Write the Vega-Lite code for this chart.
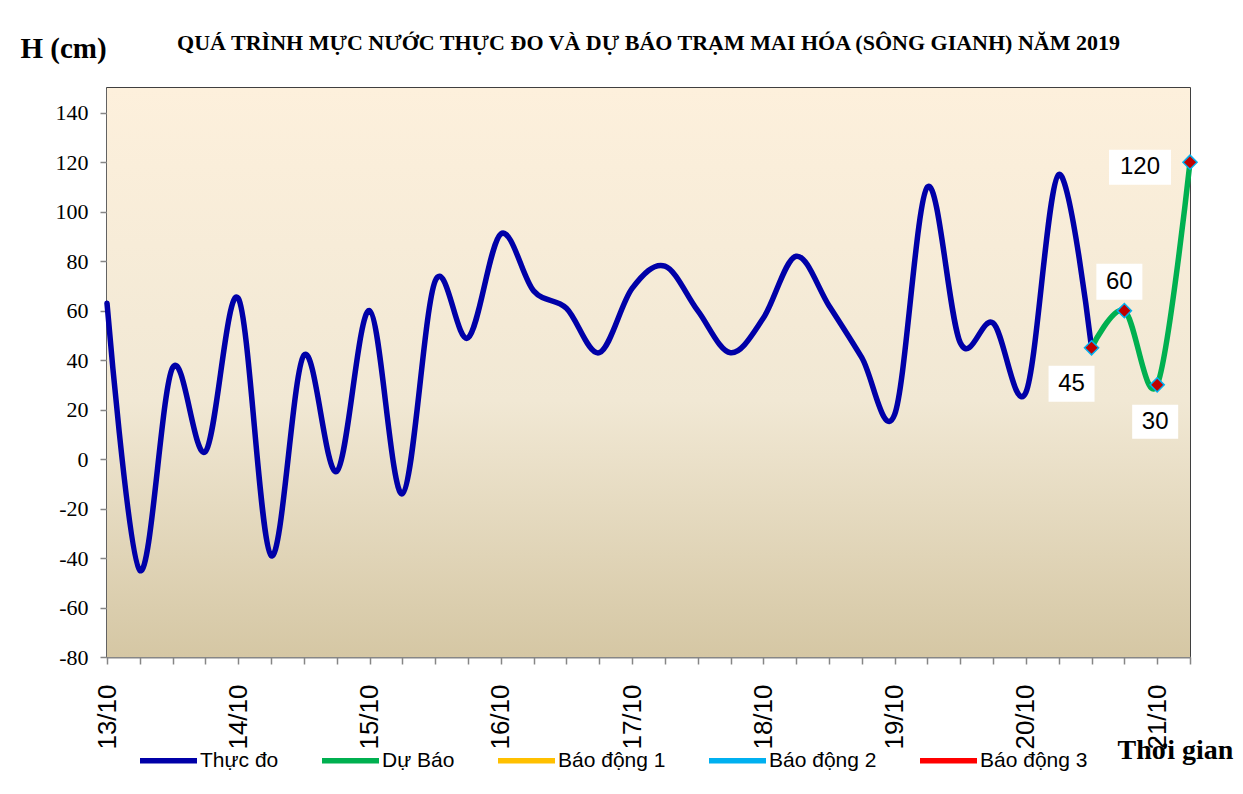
{
  "$schema": "https://vega.github.io/schema/vega-lite/v6.json",
  "width": 1083,
  "height": 569,
  "autosize": "none",
  "padding": {"left": 107, "top": 88, "right": 53, "bottom": 137},
  "background": "white",
  "title": {
    "text": "QUÁ TRÌNH MỰC NƯỚC THỰC ĐO VÀ DỰ BÁO TRẠM MAI HÓA (SÔNG GIANH) NĂM  2019",
    "font": "Liberation Serif",
    "fontSize": 22,
    "fontWeight": "bold",
    "color": "#000000",
    "anchor": "middle",
    "offset": 30,
    "dy": 51
  },
  "config": {
    "view": {"stroke": "#000000", "strokeWidth": 1.5}
  },
  "datasets": {
    "levels": [
      {"t": "2019-10-13T00:00", "h": 63, "s": "Thực đo"},
      {"t": "2019-10-13T06:00", "h": -45, "s": "Thực đo"},
      {"t": "2019-10-13T12:00", "h": 37, "s": "Thực đo"},
      {"t": "2019-10-13T18:00", "h": 3, "s": "Thực đo"},
      {"t": "2019-10-14T00:00", "h": 65, "s": "Thực đo"},
      {"t": "2019-10-14T06:00", "h": -39, "s": "Thực đo"},
      {"t": "2019-10-14T12:00", "h": 42, "s": "Thực đo"},
      {"t": "2019-10-14T18:00", "h": -5, "s": "Thực đo"},
      {"t": "2019-10-15T00:00", "h": 60, "s": "Thực đo"},
      {"t": "2019-10-15T06:00", "h": -14, "s": "Thực đo"},
      {"t": "2019-10-15T12:00", "h": 72, "s": "Thực đo"},
      {"t": "2019-10-15T18:00", "h": 49, "s": "Thực đo"},
      {"t": "2019-10-16T00:00", "h": 91, "s": "Thực đo"},
      {"t": "2019-10-16T06:00", "h": 68, "s": "Thực đo"},
      {"t": "2019-10-16T12:00", "h": 61, "s": "Thực đo"},
      {"t": "2019-10-16T18:00", "h": 43, "s": "Thực đo"},
      {"t": "2019-10-17T00:00", "h": 69, "s": "Thực đo"},
      {"t": "2019-10-17T06:00", "h": 78, "s": "Thực đo"},
      {"t": "2019-10-17T12:00", "h": 60, "s": "Thực đo"},
      {"t": "2019-10-17T18:00", "h": 43, "s": "Thực đo"},
      {"t": "2019-10-18T00:00", "h": 57, "s": "Thực đo"},
      {"t": "2019-10-18T06:00", "h": 82, "s": "Thực đo"},
      {"t": "2019-10-18T12:00", "h": 62, "s": "Thực đo"},
      {"t": "2019-10-18T18:00", "h": 41, "s": "Thực đo"},
      {"t": "2019-10-19T00:00", "h": 18, "s": "Thực đo"},
      {"t": "2019-10-19T06:00", "h": 110, "s": "Thực đo"},
      {"t": "2019-10-19T12:00", "h": 47, "s": "Thực đo"},
      {"t": "2019-10-19T18:00", "h": 55, "s": "Thực đo"},
      {"t": "2019-10-20T00:00", "h": 27, "s": "Thực đo"},
      {"t": "2019-10-20T06:00", "h": 115, "s": "Thực đo"},
      {"t": "2019-10-20T12:00", "h": 45, "s": "Thực đo"},
      {"t": "2019-10-20T12:00", "h": 45, "s": "Dự Báo"},
      {"t": "2019-10-20T18:00", "h": 60, "s": "Dự Báo"},
      {"t": "2019-10-21T00:00", "h": 30, "s": "Dự Báo"},
      {"t": "2019-10-21T06:00", "h": 120, "s": "Dự Báo"}
    ]
  },
  "layer": [
    {
      "data": {"values": [{"bg": 1}]},
      "mark": {
        "type": "rect",
        "color": {
          "gradient": "linear",
          "x1": 0, "y1": 0, "x2": 0, "y2": 1,
          "stops": [
            {"offset": 0, "color": "#FDF0DC"},
            {"offset": 0.55, "color": "#F1E8D4"},
            {"offset": 1, "color": "#D5C7A4"}
          ]
        }
      },
      "encoding": {}
    },
    {
      "data": {"name": "levels"},
      "encoding": {
        "x": {
          "field": "t",
          "type": "temporal",
          "axis": {
            "title": "Thời gian",
            "titleFont": "Liberation Serif",
            "titleFontSize": 28,
            "titleFontWeight": "bold",
            "titleColor": "#000000",
            "titleAngle": 0,
            "titleX": 1068,
            "titleY": 93,
            "titleAlign": "center",
            "titleBaseline": "middle",
            "tickCount": 33,
            "labelExpr": "hours(datum.value) == 0 ? timeFormat(datum.value, '%d/%m') : ''",
            "labelAngle": 270,
            "labelAlign": "right",
            "labelBaseline": "middle",
            "labelFont": "Liberation Sans",
            "labelFontSize": 26,
            "labelColor": "#000000",
            "labelOverlap": false,
            "labelFlush": false,
            "labelBound": false,
            "labelPadding": 20,
            "tickSize": 7,
            "tickColor": "#868686",
            "tickWidth": 1.5,
            "domainColor": "#868686",
            "domainWidth": 2,
            "grid": false
          }
        },
        "y": {
          "field": "h",
          "type": "quantitative",
          "scale": {"domain": [-80, 150], "nice": false, "zero": false},
          "axis": {
            "title": "H (cm)",
            "titleAngle": 0,
            "titleX": -87,
            "titleY": -40,
            "titleAlign": "left",
            "titleBaseline": "middle",
            "titleFont": "Liberation Serif",
            "titleFontSize": 29,
            "titleFontWeight": "bold",
            "titleColor": "#000000",
            "values": [-80, -60, -40, -20, 0, 20, 40, 60, 80, 100, 120, 140],
            "labelExpr": "'' + datum.value",
            "labelFont": "Liberation Serif",
            "labelFontSize": 22,
            "labelColor": "#000000",
            "labelPadding": 12,
            "tickSize": 7,
            "tickColor": "#868686",
            "tickWidth": 1.5,
            "domainColor": "#868686",
            "domainWidth": 2,
            "grid": false
          }
        }
      },
      "layer": [
        {
          "mark": {"type": "line", "interpolate": "cardinal", "strokeWidth": 5.5, "strokeCap": "round", "strokeJoin": "round"},
          "encoding": {
            "color": {
              "field": "s",
              "type": "nominal",
              "scale": {
                "domain": ["Thực đo", "Dự Báo", "Báo động 1", "Báo động 2", "Báo động 3"],
                "range": ["#0000A8", "#00B050", "#FFC000", "#00B0F0", "#FF0000"]
              },
              "legend": {
                "orient": "none",
                "legendX": 30,
                "legendY": 641,
                "direction": "horizontal",
                "title": null,
                "symbolType": "stroke",
                "symbolSize": 3249,
                "symbolStrokeWidth": 5.5,
                "labelFont": "Liberation Sans",
                "labelFontSize": 21,
                "labelColor": "#000000",
                "labelOffset": 0,
                "columnPadding": 32
              }
            }
          }
        },
        {
          "transform": [{"filter": "datum.s == 'Dự Báo'"}],
          "mark": {"type": "point", "shape": "diamond", "filled": true, "size": 200, "fill": "#C00000", "stroke": "#00B0F0", "strokeWidth": 1.5, "opacity": 1},
          "encoding": {}
        },
        {
          "transform": [{"filter": "datum.s == 'Dự Báo' && datum.h == 45"}],
          "layer": [
            {"mark": {"type": "point", "shape": "M-2.457,1.029L0.171,1.029L0.171,3.086L-2.457,3.086Z", "size": 1225, "filled": true, "fill": "#FFFFFF", "strokeWidth": 0, "opacity": 1}, "encoding": {}},
            {"mark": {"type": "text", "font": "Liberation Sans", "fontSize": 24, "color": "#000000", "align": "center", "baseline": "middle", "dx": -20, "dy": 36}, "encoding": {"text": {"field": "h", "type": "quantitative"}}}
          ]
        },
        {
          "transform": [{"filter": "datum.s == 'Dự Báo' && datum.h == 60"}],
          "layer": [
            {"mark": {"type": "point", "shape": "M-1.6,-2.686L1.029,-2.686L1.029,-0.629L-1.6,-0.629Z", "size": 1225, "filled": true, "fill": "#FFFFFF", "strokeWidth": 0, "opacity": 1}, "encoding": {}},
            {"mark": {"type": "text", "font": "Liberation Sans", "fontSize": 24, "color": "#000000", "align": "center", "baseline": "middle", "dx": -5, "dy": -29}, "encoding": {"text": {"field": "h", "type": "quantitative"}}}
          ]
        },
        {
          "transform": [{"filter": "datum.s == 'Dự Báo' && datum.h == 30"}],
          "layer": [
            {"mark": {"type": "point", "shape": "M-1.429,1.143L1.2,1.143L1.2,3.086L-1.429,3.086Z", "size": 1225, "filled": true, "fill": "#FFFFFF", "strokeWidth": 0, "opacity": 1}, "encoding": {}},
            {"mark": {"type": "text", "font": "Liberation Sans", "fontSize": 24, "color": "#000000", "align": "center", "baseline": "middle", "dx": -2, "dy": 37}, "encoding": {"text": {"field": "h", "type": "quantitative"}}}
          ]
        },
        {
          "transform": [{"filter": "datum.s == 'Dự Báo' && datum.h == 120"}],
          "layer": [
            {"mark": {"type": "point", "shape": "M-4.629,-0.714L-1.086,-0.714L-1.086,1.286L-4.629,1.286Z", "size": 1225, "filled": true, "fill": "#FFFFFF", "strokeWidth": 0, "opacity": 1}, "encoding": {}},
            {"mark": {"type": "text", "font": "Liberation Sans", "fontSize": 24, "color": "#000000", "align": "center", "baseline": "middle", "dx": -50, "dy": 5}, "encoding": {"text": {"field": "h", "type": "quantitative"}}}
          ]
        }
      ]
    }
  ]
}
